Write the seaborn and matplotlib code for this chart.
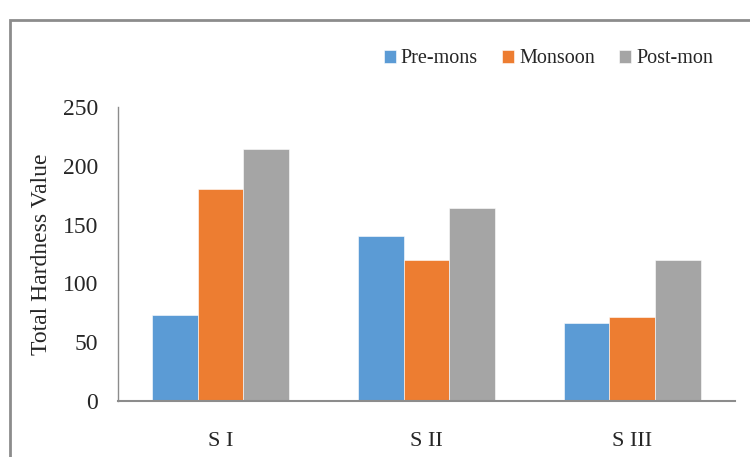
import matplotlib
matplotlib.use("Agg")
import matplotlib.pyplot as plt
import seaborn as sns
import pandas as pd
from matplotlib.patches import Rectangle

categories = ["S I", "S II", "S III"]
seasons = ["Pre-mons", "Monsoon", "Post-mon"]
pre_mons = [73, 140, 66]
monsoon = [180, 120, 71]
post_mon = [214, 164, 120]
y_ticks = [0, 50, 100, 150, 200, 250]
colors = ["#5B9BD5", "#ED7D31", "#A5A5A5"]

rows = []
for season, vals in zip(seasons, [pre_mons, monsoon, post_mon]):
    for c, v in zip(categories, vals):
        rows.append({"Site": c, "Season": season, "Value": v})
df = pd.DataFrame(rows)

sns.set_theme(style="white")
plt.rcParams["font.family"] = ["Liberation Serif", "DejaVu Serif"]

fig = plt.figure(figsize=(7.5, 4.57), dpi=100)
ax = fig.add_axes([0.157, 0.1225, 0.823, 0.6435])

sns.barplot(data=df, x="Site", y="Value", hue="Season", order=categories,
            hue_order=seasons, palette=colors, width=0.667, ax=ax,
            saturation=1, errorbar=None, edgecolor="white", linewidth=0.4)

ax.set_xlim(-0.5, 2.5)
ax.set_ylim(0, 250)
ax.set_yticks(y_ticks)
ax.set_yticklabels([str(t) for t in y_ticks], fontsize=17)
ax.tick_params(axis="y", length=0, pad=14)
ax.tick_params(axis="x", length=0, pad=22, labelsize=16)
ax.set_xlabel("")
ax.set_ylabel("Total Hardness Value", fontsize=17, labelpad=8)

for s in ["top", "right"]:
    ax.spines[s].set_visible(False)
ax.spines["left"].set_color("#8c8c8c")
ax.spines["left"].set_linewidth(1.0)
ax.spines["bottom"].set_color("#8c8c8c")
ax.spines["bottom"].set_linewidth(1.5)

handles, labels = ax.get_legend_handles_labels()
ax.legend(handles, labels, ncol=3, frameon=False, fontsize=14.5,
          handlelength=0.6, handleheight=0.6, handletextpad=0.25,
          columnspacing=1.2, loc="center", bbox_to_anchor=(0.731, 0.871),
          bbox_transform=fig.transFigure)

# outer chart frame (partially clipped in the reference)
fig.patches.append(Rectangle((10 / 750, -0.1), 1.2, 1 - 20 / 457 + 0.1,
                             transform=fig.transFigure, fill=False,
                             edgecolor="#8c8c8c", linewidth=2.0))

fig.savefig("out.png", dpi=100)
